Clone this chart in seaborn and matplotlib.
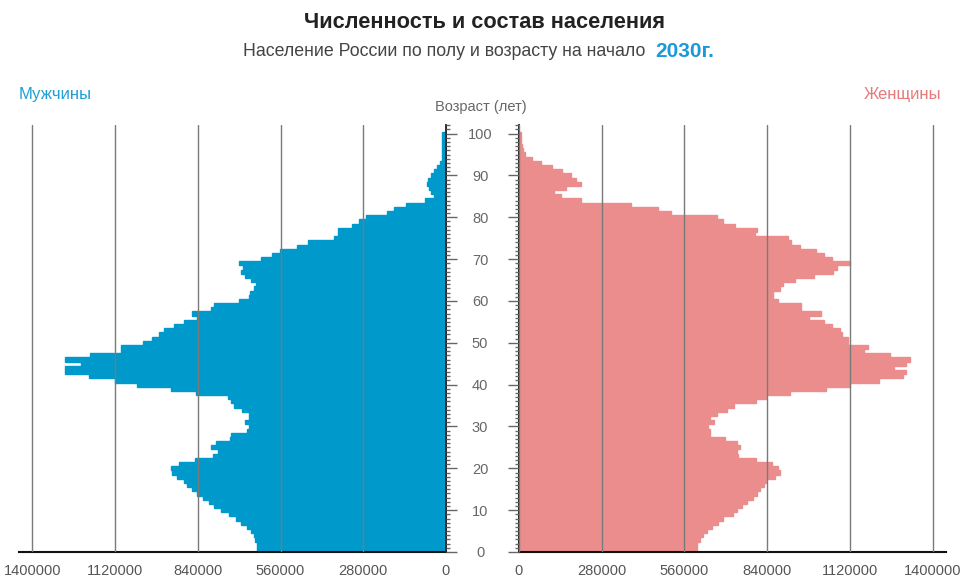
import numpy as np
import pandas as pd
import seaborn as sns
import matplotlib.pyplot as plt
from matplotlib.ticker import MultipleLocator

# Население России по полу и возрасту, 2030
ages = list(range(0, 101))
men = [
    640000, 640000, 641000, 646000, 651000, 660000, 672000, 694000, 711000, 734000,
    762000, 785000, 802000, 821000, 843000, 858000, 875000, 886000, 909000, 926000,
    929000, 903000, 850000, 787000, 773000, 794000, 779000, 730000, 728000, 672000,
    666000, 681000, 666000, 666000, 689000, 717000, 728000, 739000, 847000, 931000,
    1044000, 1120000, 1208000, 1289000, 1289000, 1236000, 1289000, 1205000, 1101000, 1101000,
    1024000, 996000, 971000, 954000, 922000, 886000, 841000, 861000, 796000, 785000,
    700000, 666000, 663000, 651000, 643000, 660000, 681000, 694000, 688000, 700000,
    627000, 590000, 561000, 505000, 466000, 378000, 367000, 367000, 318000, 293000,
    271000, 200000, 175000, 135000, 70000, 40000, 50000, 58000, 63000, 60000,
    51000, 41000, 32000, 20000, 13000, 12000, 12000, 12000, 12000, 12000,
    12000,
]
women = [
    602000, 602000, 602000, 611000, 622000, 636000, 653000, 675000, 692000, 724000,
    737000, 754000, 773000, 791000, 805000, 816000, 830000, 837000, 867000, 882000,
    878000, 856000, 803000, 740000, 737000, 749000, 737000, 698000, 647000, 647000,
    638000, 660000, 647000, 669000, 703000, 728000, 803000, 837000, 918000, 1040000,
    1119000, 1217000, 1299000, 1311000, 1270000, 1310000, 1324000, 1254000, 1168000, 1181000,
    1112000, 1112000, 1093000, 1085000, 1059000, 1031000, 983000, 1022000, 955000, 955000,
    878000, 859000, 861000, 882000, 895000, 935000, 997000, 1062000, 1076000, 1119000,
    1059000, 1031000, 1006000, 952000, 921000, 909000, 799000, 807000, 732000, 692000,
    670000, 514000, 470000, 378000, 209000, 141000, 119000, 158000, 211000, 192000,
    175000, 147000, 113000, 73000, 45000, 22000, 12000, 9000, 8000, 7000,
    6000,
]
x_ticks = [0, 280000, 560000, 840000, 1120000, 1400000]

df = pd.DataFrame({"age": ages, "men": men, "women": women})

MEN_COLOR = "#0099cc"
WOMEN_COLOR = "#eb8d8d"

sns.set_style("white")
plt.rcParams["font.family"] = ["Liberation Sans", "DejaVu Sans"]

fig = plt.figure(figsize=(9.75, 5.84), dpi=100)
ax_m = fig.add_axes([0.0195, 0.0548, 0.4379, 0.7307])
ax_w = fig.add_axes([0.5323, 0.0548, 0.4379, 0.7307])

sns.barplot(data=df, x="men", y="age", orient="y", native_scale=True, width=1,
            color=MEN_COLOR, saturation=1, errorbar=None,
            edgecolor=MEN_COLOR, linewidth=1.0, ax=ax_m)
sns.barplot(data=df, x="women", y="age", orient="y", native_scale=True, width=1,
            color=WOMEN_COLOR, saturation=1, errorbar=None,
            edgecolor=WOMEN_COLOR, linewidth=1.0, ax=ax_w)

for ax in (ax_m, ax_w):
    ax.set_ylim(0, 102)
    ax.set_xlabel("")
    ax.set_ylabel("")
    ax.set_xticks(x_ticks)
    ax.set_xticklabels([str(v) for v in x_ticks])
    ax.grid(axis="x", color="#7a7a7a", linewidth=1)
    ax.grid(axis="y", visible=False)
    ax.set_axisbelow(False)
    ax.yaxis.set_major_locator(MultipleLocator(10))
    ax.yaxis.set_minor_locator(MultipleLocator(1))
    ax.tick_params(axis="x", direction="out", length=5, width=1, color="#222222",
                   labelsize=10.5, labelcolor="#555555", pad=4)
    ax.tick_params(axis="y", which="major", length=8, width=1, color="#666666")
    ax.tick_params(axis="y", which="minor", length=3, width=1, color="#666666")
    ax.spines["top"].set_visible(False)
    ax.spines["bottom"].set_color("#111111")
    ax.spines["bottom"].set_linewidth(1.5)

ax_m.set_xlim(1445000, 0)
ax_w.set_xlim(0, 1445000)

ax_m.spines["left"].set_visible(False)
ax_m.spines["right"].set_color("#111111")
ax_m.spines["right"].set_linewidth(1.3)
ax_m.yaxis.tick_right()
ax_m.tick_params(axis="y", which="both", labelright=False, labelleft=False)

ax_w.spines["right"].set_visible(False)
ax_w.spines["left"].set_color("#111111")
ax_w.spines["left"].set_linewidth(1.3)
ax_w.yaxis.tick_left()
ax_w.set_yticks(range(0, 101, 10))
ax_w.set_yticklabels([str(v) for v in range(0, 101, 10)])
ax_w.tick_params(axis="y", which="major", labelsize=10.5, labelcolor="#666666", pad=20)
for lab in ax_w.get_yticklabels():
    lab.set_horizontalalignment("center")

# Заголовки
fig.text(0.497, 0.962, "Численность и состав населения", ha="center", va="center",
         fontsize=15.7, fontweight="bold", color="#222222")
fig.text(0.667, 0.911, "Население России по полу и возрасту на начало ", ha="right",
         va="center", fontsize=12.8, color="#444444")
fig.text(0.672, 0.911, "2030г.", ha="left", va="center", fontsize=15,
         fontweight="bold", color="#1a9ad6")
fig.text(0.019, 0.838, "Мужчины", ha="left", va="center", fontsize=12, color="#1e9fd5")
fig.text(0.966, 0.838, "Женщины", ha="right", va="center", fontsize=12, color="#e57b7b")
fig.text(0.493, 0.816, "Возраст (лет)", ha="center", va="center", fontsize=10.5,
         color="#666666")

fig.savefig("out.png", dpi=100)
